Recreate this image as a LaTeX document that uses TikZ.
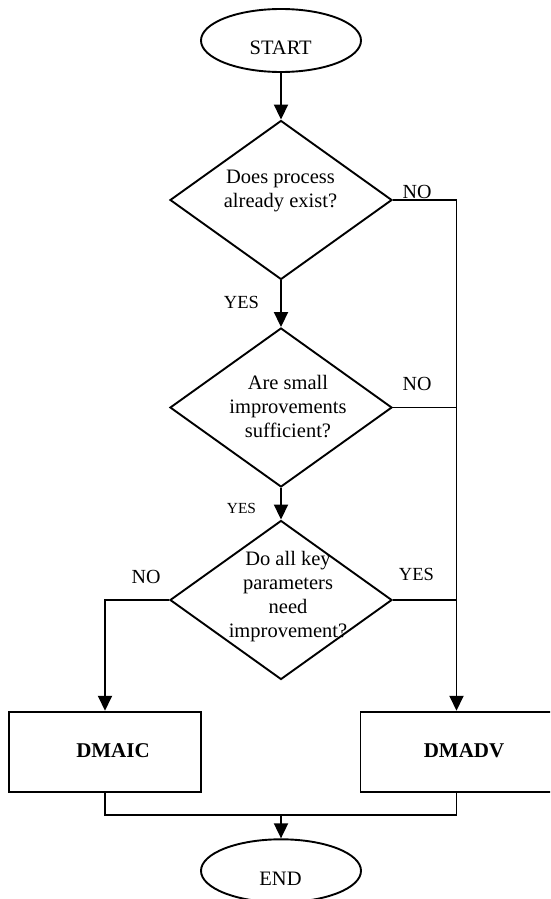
\documentclass[tikz,border=0pt]{standalone}
\usepackage{fontspec}
\setmainfont{Liberation Serif}
\usetikzlibrary{shapes.geometric,arrows.meta}

\begin{document}
\begin{tikzpicture}[x=1pt,y=-1pt,line width=1.9pt,
  terminal/.style={ellipse,draw,minimum width=160pt,minimum height=63pt,inner sep=0pt},
  decision/.style={diamond,draw,minimum width=222pt,minimum height=159pt,inner sep=0pt},
  procbox/.style={rectangle,draw,minimum width=192pt,minimum height=80pt,inner sep=0pt},
  qtext/.style={align=center,inner sep=0pt,font=\fontsize{20.5}{24}\selectfont},
  boxtext/.style={inner sep=0pt,font=\fontsize{21}{24}\selectfont\bfseries},
  lbl/.style={anchor=base west,inner sep=0pt,font=\fontsize{#1}{#1}\selectfont},
  flow/.style={-{Triangle[width=14pt,length=15pt]}}]

\useasboundingbox (0,0) rectangle (550,899);
\clip (0,0) rectangle (550,899);

% terminals
\node[terminal] (start) at (281,40.5) {};
\node[qtext] (starttext) at (280.7,48.3) {START};
\node[terminal] (end) at (281,870.8) {};
\node[qtext] (endtext) at (280.5,878.3) {END};

% decisions
\node[decision] (d1) at (281,200) {};
\node[qtext] (d1text) at (280.5,190.5) {Does process\\already exist?};
\node[decision] (d2) at (281,407.5) {};
\node[qtext] (d2text) at (288,407) {Are small\\improvements\\sufficient?};
\node[decision] (d3) at (281,600) {};
\node[qtext] (d3text) at (288,596.2) {Do all key\\parameters\\need\\improvement?};

% processes
\node[procbox] (dmaic) at (105,751.7) {};
\node[boxtext] (dmaictext) at (113,751) {DMAIC};
\node[procbox] (dmadv) at (456.5,751.7) {};
\node[boxtext] (dmadvtext) at (464,751) {DMADV};

% main flow
\draw[flow] (start) -- (d1);
\draw[flow] (d1) -- (d2);
\draw[flow] (d2) -- (d3);

% right-hand rail into DMADV
\draw[flow] (d1.east) -- (dmadv.north |- d1.east) -- (dmadv.north);
\draw (d2.east) -- (dmadv.north |- d2.east);
\draw (d3.east) -- (dmadv.north |- d3.east);

% left branch into DMAIC
\draw[flow] (d3.west) -- (dmaic.north |- d3.west) -- (dmaic.north);

% merge into END
\coordinate (merge) at (281,815);
\draw (dmaic.south) -- (dmaic.south |- merge) -- (dmadv.south |- merge) -- (dmadv.south);
\draw[flow] (merge) -- (end.north);

% branch labels
\node[lbl=20] (no1) at (401.7,198) {NO};
\node[lbl=18.5] (yes1) at (223,308) {YES};
\node[lbl=20] (no2) at (401.7,390) {NO};
\node[lbl=15.4] (yes2) at (226,513) {YES};
\node[lbl=20] (no3) at (130.7,583) {NO};
\node[lbl=18.5] (yes3) at (398,580) {YES};
\end{tikzpicture}
\end{document}
